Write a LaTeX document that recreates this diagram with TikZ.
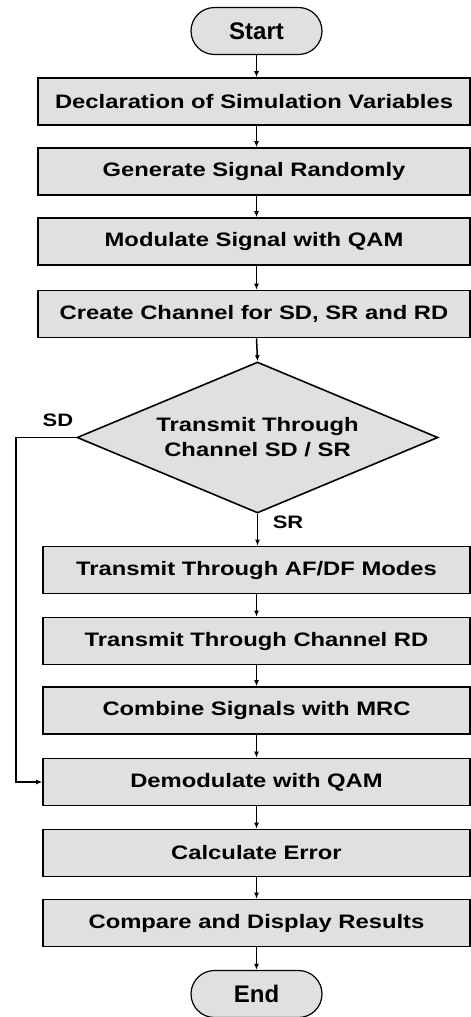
\documentclass[tikz,border=0pt]{standalone}
\usepackage{fontspec}
\setmainfont{Liberation Sans}[FakeStretch=1.22]
\newfontfamily\termfont{Liberation Sans}
\usetikzlibrary{shapes.geometric,shapes.misc,arrows.meta}
\begin{document}
\begin{tikzpicture}[x=1pt,y=-1pt,
  every node/.style={font=\fontsize{19.5}{25}\selectfont\bfseries, text=black},
  stepbox/.style={draw=black, line width=1.6pt, fill=boxgray, minimum height=47pt, inner sep=0pt},
  upbox/.style={stepbox, minimum width=432pt},
  lowbox/.style={stepbox, minimum width=427pt},
  term/.style={draw=black, line width=1.2pt, fill=boxgray, rounded rectangle, minimum width=131pt, minimum height=47pt, inner sep=0pt, font=\termfont\fontsize{24}{28}\selectfont\bfseries},
  decide/.style={draw=black, line width=1.6pt, fill=boxgray, diamond, aspect=2.39, minimum width=361pt, minimum height=151pt, inner sep=0pt, align=center},
  flow/.style={draw=black, line width=1.5pt, -{Latex[length=6pt,width=5pt]}},
  lbl/.style={inner sep=0pt, font=\fontsize{18}{20}\selectfont\bfseries}
]
\definecolor{boxgray}{RGB}{224,224,224}
\useasboundingbox (0,0) rectangle (471,1017);
\fill[white] (0,0) rectangle (471,1017);
\node[term] (start) at (256.5,31) {Start};
\node[upbox] (b1) at (254,101.5) {Declaration of Simulation Variables};
\node[upbox] (b2) at (254,171.5) {Generate Signal Randomly};
\node[upbox] (b3) at (254,241.5) {Modulate Signal with QAM};
\node[upbox] (b4) at (254,314) {Create Channel for SD, SR and RD};
\node[decide] (d) at (257.5,437.5) {Transmit Through\\Channel SD / SR};
\node[lowbox] (b5) at (256.5,570) {Transmit Through AF/DF Modes};
\node[lowbox] (b6) at (256.5,641) {Transmit Through Channel RD};
\node[lowbox] (b7) at (256.5,710.5) {Combine Signals with MRC};
\node[lowbox] (b8) at (256.5,782) {Demodulate with QAM};
\node[lowbox] (b9) at (256.5,853) {Calculate Error};
\node[lowbox] (b10) at (256.5,923) {Compare and Display Results};
\node[term] (end) at (256.5,994) {End};
\node[lbl] (sd) at (58,420) {SD};
\node[lbl] (sr) at (288,522) {SR};
\coordinate (sdc) at (16,437.5);
\draw[flow] (start.south) -- (start.south |- b1.north);
\draw[flow] (start.south |- b1.south) -- (start.south |- b2.north);
\draw[flow] (start.south |- b2.south) -- (start.south |- b3.north);
\draw[flow] (start.south |- b3.south) -- (start.south |- b4.north);
\draw[flow] (start.south |- b4.south) -- (d.north);
\draw[flow] (d.south) -- (d.south |- b5.north);
\draw[flow] (b5.south) -- (b6.north);
\draw[flow] (b6.south) -- (b7.north);
\draw[flow] (b7.south) -- (b8.north);
\draw[flow] (b8.south) -- (b9.north);
\draw[flow] (b9.south) -- (b10.north);
\draw[flow] (b10.south) -- (end.north);
\draw[flow] (d.west) -- (sdc) |- (b8.west);
\end{tikzpicture}
\end{document}
